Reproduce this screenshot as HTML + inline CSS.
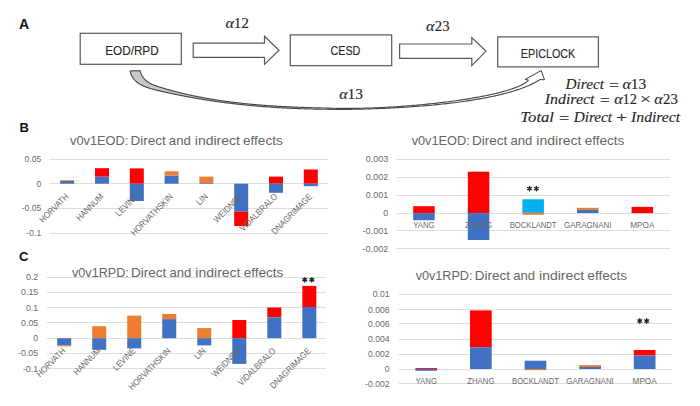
<!DOCTYPE html>
<html><head><meta charset="utf-8"><style>
html,body{margin:0;padding:0;background:#fff;width:700px;height:406px;overflow:hidden}
svg{display:block}
</style></head><body>
<svg width="700" height="406" viewBox="0 0 700 406">
<rect width="700" height="406" fill="#fff"/>
<text x="19.00" y="29.00" font-family="Liberation Sans" font-size="14" fill="#111" text-anchor="start" font-weight="bold">A</text>
<text x="19.60" y="131.80" font-family="Liberation Sans" font-size="13" fill="#111" text-anchor="start" font-weight="bold">B</text>
<text x="19.00" y="261.30" font-family="Liberation Sans" font-size="13" fill="#111" text-anchor="start" font-weight="bold">C</text>
<rect x="80.20" y="33.30" width="101.10" height="31.00" fill="#fff" stroke="#595959" stroke-width="1.2"/>
<text x="105.20" y="55.30" font-family="Liberation Sans" font-size="12.4" fill="#262626" text-anchor="start" textLength="53.50" lengthAdjust="spacingAndGlyphs" stroke="#262626" stroke-width="0.12">EOD/RPD</text>
<rect x="290.30" y="34.90" width="101.40" height="30.80" fill="#fff" stroke="#595959" stroke-width="1.2"/>
<text x="330.40" y="55.00" font-family="Liberation Sans" font-size="12.4" fill="#262626" text-anchor="start" textLength="30.00" lengthAdjust="spacingAndGlyphs" stroke="#262626" stroke-width="0.12">CESD</text>
<rect x="497.70" y="36.90" width="100.70" height="30.00" fill="#fff" stroke="#595959" stroke-width="1.2"/>
<text x="520.80" y="57.60" font-family="Liberation Sans" font-size="12.4" fill="#262626" text-anchor="start" textLength="54.50" lengthAdjust="spacingAndGlyphs" stroke="#262626" stroke-width="0.12">EPICLOCK</text>
<path d="M193.2,43.2 L264.5,43.2 L264.5,36.2 L279.0,50.3 L264.5,64.4 L264.5,57.4 L193.2,57.4 Z" fill="#fff" stroke="#595959" stroke-width="1.2" stroke-linejoin="miter"/>
<path d="M399.6,44.0 L471.8,44.0 L471.8,37.6 L486.0,51.1 L471.8,65.6 L471.8,58.4 L399.6,58.4 Z" fill="#fff" stroke="#595959" stroke-width="1.2" stroke-linejoin="miter"/>
<text x="225.52" y="27.90" font-family="Liberation Serif" font-size="14.5" fill="#262626" textLength="8.44" lengthAdjust="spacingAndGlyphs" font-style="italic" stroke="#262626" stroke-width="0.12">α</text>
<text x="233.70" y="27.90" font-family="Liberation Serif" font-size="14.5" fill="#262626" textLength="15.35" lengthAdjust="spacingAndGlyphs" stroke="#262626" stroke-width="0.12">12</text>
<text x="426.02" y="30.60" font-family="Liberation Serif" font-size="14.5" fill="#262626" textLength="8.44" lengthAdjust="spacingAndGlyphs" font-style="italic" stroke="#262626" stroke-width="0.12">α</text>
<text x="434.84" y="30.60" font-family="Liberation Serif" font-size="14.5" fill="#262626" textLength="14.75" lengthAdjust="spacingAndGlyphs" stroke="#262626" stroke-width="0.12">23</text>
<text x="339.32" y="99.40" font-family="Liberation Serif" font-size="14.5" fill="#262626" textLength="8.44" lengthAdjust="spacingAndGlyphs" font-style="italic" stroke="#262626" stroke-width="0.12">α</text>
<text x="347.49" y="99.40" font-family="Liberation Serif" font-size="14.5" fill="#262626" textLength="15.43" lengthAdjust="spacingAndGlyphs" stroke="#262626" stroke-width="0.12">13</text>
<path d="M140.10,70.71 L140.22,71.19 L140.36,71.66 L140.50,72.12 L140.64,72.58 L140.80,73.02 L140.96,73.45 L141.13,73.88 L141.31,74.29 L141.50,74.69 L141.69,75.09 L141.89,75.48 L142.10,75.85 L142.32,76.22 L142.54,76.58 L142.77,76.94 L143.00,77.28 L143.24,77.61 L143.49,77.94 L143.75,78.26 L144.01,78.57 L144.27,78.88 L144.55,79.18 L144.82,79.47 L145.11,79.75 L145.40,80.03 L145.69,80.30 L145.99,80.56 L146.29,80.82 L146.60,81.07 L146.92,81.31 L147.24,81.55 L147.56,81.78 L147.89,82.01 L148.22,82.23 L148.56,82.44 L148.90,82.66 L149.24,82.86 L149.59,83.06 L149.94,83.26 L150.30,83.45 L150.66,83.63 L151.02,83.82 L151.39,84.00 L151.76,84.17 L152.13,84.34 L152.50,84.51 L152.88,84.67 L153.26,84.83 L153.64,84.99 L154.02,85.14 L154.41,85.29 L154.80,85.44 L155.19,85.58 L155.58,85.72 L155.97,85.86 L156.37,86.00 L156.77,86.14 L157.16,86.27 L157.56,86.40 L157.96,86.54 L158.36,86.66 L158.77,86.79 L159.17,86.92 L159.57,87.04 L159.97,87.17 L160.38,87.29 L160.78,87.42 L161.19,87.54 L161.59,87.66 L161.99,87.78 L162.40,87.91 L162.80,88.03 L163.21,88.15 L163.61,88.27 L164.01,88.39 L164.42,88.51 L164.82,88.62 L165.23,88.74 L165.63,88.86 L166.04,88.98 L166.44,89.09 L166.85,89.21 L167.25,89.33 L167.66,89.44 L168.06,89.56 L168.47,89.67 L168.87,89.78 L169.28,89.90 L169.68,90.01 L170.09,90.12 L170.50,90.23 L170.90,90.34 L171.31,90.45 L171.71,90.57 L172.12,90.67 L172.53,90.78 L172.93,90.89 L173.34,91.00 L173.74,91.11 L174.15,91.22 L174.56,91.32 L174.96,91.43 L175.37,91.54 L175.78,91.64 L176.19,91.75 L176.59,91.85 L177.00,91.96 L177.41,92.06 L177.81,92.16 L178.22,92.26 L178.63,92.37 L179.04,92.47 L179.44,92.57 L179.85,92.67 L180.26,92.77 L180.67,92.87 L181.07,92.97 L181.48,93.07 L181.89,93.17 L182.30,93.27 L182.71,93.37 L183.12,93.46 L183.52,93.56 L183.93,93.66 L184.34,93.75 L184.75,93.85 L185.16,93.94 L185.57,94.04 L185.98,94.13 L186.38,94.22 L186.79,94.32 L187.20,94.41 L187.61,94.50 L188.02,94.60 L188.43,94.69 L188.84,94.78 L189.25,94.87 L189.66,94.96 L190.07,95.05 L190.48,95.14 L190.89,95.23 L191.30,95.32 L191.71,95.40 L192.12,95.49 L192.53,95.58 L192.94,95.67 L193.35,95.75 L193.76,95.84 L194.17,95.92 L194.58,96.01 L194.99,96.09 L195.40,96.18 L195.81,96.26 L196.22,96.35 L196.63,96.43 L197.04,96.51 L197.45,96.59 L197.86,96.68 L198.28,96.76 L198.69,96.84 L199.10,96.92 L199.51,97.00 L199.92,97.08 L200.33,97.16 L200.74,97.24 L201.15,97.32 L201.57,97.40 L201.98,97.47 L202.39,97.55 L202.80,97.63 L203.21,97.71 L203.62,97.78 L204.04,97.86 L204.45,97.93 L204.86,98.01 L205.27,98.08 L205.68,98.16 L206.10,98.23 L206.51,98.31 L206.92,98.38 L207.33,98.45 L207.75,98.52 L208.16,98.60 L208.57,98.67 L208.98,98.74 L209.40,98.81 L209.81,98.88 L210.22,98.95 L210.63,99.02 L211.05,99.09 L211.46,99.16 L211.87,99.23 L212.29,99.30 L212.70,99.36 L213.11,99.43 L213.53,99.50 L213.94,99.57 L214.35,99.63 L214.77,99.70 L215.18,99.77 L215.59,99.83 L216.01,99.90 L216.42,99.96 L216.83,100.03 L217.25,100.09 L217.66,100.15 L218.08,100.22 L218.49,100.28 L218.90,100.34 L219.32,100.40 L219.73,100.47 L220.15,100.53 L220.56,100.59 L220.97,100.65 L221.39,100.71 L221.80,100.77 L222.22,100.83 L222.63,100.89 L223.05,100.95 L223.46,101.01 L223.88,101.07 L224.29,101.13 L224.70,101.18 L225.12,101.24 L225.53,101.30 L225.95,101.36 L226.36,101.41 L226.78,101.47 L227.19,101.52 L227.61,101.58 L228.02,101.63 L228.44,101.69 L228.85,101.74 L229.27,101.80 L229.68,101.85 L230.10,101.91 L230.52,101.96 L230.93,102.01 L231.35,102.07 L231.76,102.12 L232.18,102.17 L232.59,102.22 L233.01,102.27 L233.42,102.32 L233.84,102.37 L234.26,102.43 L234.67,102.48 L235.09,102.53 L235.50,102.58 L235.92,102.62 L236.33,102.67 L236.75,102.72 L237.17,102.77 L237.58,102.82 L238.00,102.87 L238.41,102.91 L238.83,102.96 L239.25,103.01 L239.66,103.05 L240.08,103.10 L240.50,103.15 L240.91,103.19 L241.33,103.24 L241.75,103.28 L242.16,103.33 L242.58,103.37 L242.99,103.42 L243.41,103.46 L243.83,103.50 L244.24,103.55 L244.66,103.59 L245.08,103.63 L245.49,103.68 L245.91,103.72 L246.33,103.76 L246.74,103.80 L247.16,103.84 L247.58,103.89 L248.00,103.93 L248.41,103.97 L248.83,104.01 L249.25,104.05 L249.66,104.09 L250.08,104.13 L250.50,104.17 L250.92,104.21 L251.33,104.25 L251.75,104.28 L252.17,104.32 L252.58,104.36 L253.00,104.40 L253.42,104.44 L253.84,104.47 L254.25,104.51 L254.67,104.55 L255.09,104.58 L255.51,104.62 L255.92,104.66 L256.34,104.69 L256.76,104.73 L257.18,104.76 L257.59,104.80 L258.01,104.83 L258.43,104.87 L258.85,104.90 L259.26,104.93 L259.68,104.97 L260.10,105.00 L260.52,105.04 L260.93,105.07 L261.35,105.10 L261.77,105.13 L262.19,105.17 L262.61,105.20 L263.02,105.23 L263.44,105.26 L263.86,105.29 L264.28,105.33 L264.70,105.36 L265.11,105.39 L265.53,105.42 L265.95,105.45 L266.37,105.48 L266.79,105.51 L267.20,105.54 L267.62,105.57 L268.04,105.60 L268.46,105.63 L268.88,105.65 L269.30,105.68 L269.71,105.71 L270.13,105.74 L270.55,105.77 L270.97,105.80 L271.39,105.82 L271.80,105.85 L272.22,105.88 L272.64,105.90 L273.06,105.93 L273.48,105.96 L273.90,105.98 L274.31,106.01 L274.73,106.04 L275.15,106.06 L275.57,106.09 L275.99,106.11 L276.41,106.14 L276.83,106.16 L277.24,106.19 L277.66,106.21 L278.08,106.24 L278.50,106.26 L278.92,106.29 L279.34,106.31 L279.75,106.33 L280.17,106.36 L280.59,106.38 L281.01,106.40 L281.43,106.43 L281.85,106.45 L282.27,106.47 L282.68,106.49 L283.10,106.52 L283.52,106.54 L283.94,106.56 L284.36,106.58 L284.78,106.60 L285.20,106.62 L285.61,106.65 L286.03,106.67 L286.45,106.69 L286.87,106.71 L287.29,106.73 L287.71,106.75 L288.13,106.77 L288.55,106.79 L288.96,106.81 L289.38,106.83 L289.80,106.85 L290.22,106.87 L290.64,106.89 L291.06,106.91 L291.48,106.92 L291.89,106.94 L292.31,106.96 L292.73,106.98 L293.15,107.00 L293.57,107.02 L293.99,107.03 L294.41,107.05 L294.83,107.07 L295.24,107.09 L295.66,107.10 L296.08,107.12 L296.50,107.14 L296.92,107.16 L297.34,107.17 L297.76,107.19 L298.18,107.21 L298.59,107.22 L299.01,107.24 L299.43,107.26 L299.85,107.27 L299.75,108.65 L299.31,108.64 L298.87,108.62 L298.43,108.60 L297.99,108.59 L297.55,108.57 L297.11,108.55 L296.67,108.54 L296.23,108.52 L295.79,108.50 L295.35,108.48 L294.91,108.46 L294.47,108.45 L294.03,108.43 L293.59,108.41 L293.15,108.39 L292.71,108.37 L292.27,108.35 L291.83,108.33 L291.39,108.31 L290.95,108.29 L290.51,108.27 L290.07,108.25 L289.63,108.23 L289.19,108.21 L288.75,108.19 L288.32,108.17 L287.88,108.15 L287.44,108.12 L287.00,108.10 L286.56,108.08 L286.12,108.06 L285.68,108.03 L285.24,108.01 L284.80,107.99 L284.36,107.97 L283.93,107.94 L283.49,107.92 L283.05,107.89 L282.61,107.87 L282.17,107.85 L281.73,107.82 L281.29,107.80 L280.86,107.77 L280.42,107.75 L279.98,107.72 L279.54,107.70 L279.10,107.67 L278.66,107.64 L278.23,107.62 L277.79,107.59 L277.35,107.57 L276.91,107.54 L276.47,107.51 L276.03,107.48 L275.60,107.46 L275.16,107.43 L274.72,107.40 L274.28,107.37 L273.84,107.34 L273.41,107.32 L272.97,107.29 L272.53,107.26 L272.09,107.23 L271.66,107.20 L271.22,107.17 L270.78,107.14 L270.34,107.11 L269.91,107.08 L269.47,107.05 L269.03,107.02 L268.59,106.99 L268.16,106.95 L267.72,106.92 L267.28,106.89 L266.84,106.86 L266.41,106.83 L265.97,106.79 L265.53,106.76 L265.09,106.73 L264.66,106.69 L264.22,106.66 L263.78,106.63 L263.35,106.59 L262.91,106.56 L262.47,106.53 L262.04,106.49 L261.60,106.46 L261.16,106.42 L260.72,106.39 L260.29,106.35 L259.85,106.31 L259.41,106.28 L258.98,106.24 L258.54,106.21 L258.10,106.17 L257.67,106.13 L257.23,106.09 L256.79,106.06 L256.36,106.02 L255.92,105.98 L255.48,105.94 L255.05,105.90 L254.61,105.87 L254.17,105.83 L253.74,105.79 L253.30,105.75 L252.87,105.71 L252.43,105.67 L251.99,105.63 L251.56,105.59 L251.12,105.55 L250.68,105.51 L250.25,105.47 L249.81,105.42 L249.37,105.38 L248.94,105.34 L248.50,105.30 L248.07,105.26 L247.63,105.21 L247.19,105.17 L246.76,105.13 L246.32,105.08 L245.89,105.04 L245.45,105.00 L245.01,104.95 L244.58,104.91 L244.14,104.86 L243.71,104.82 L243.27,104.77 L242.83,104.73 L242.40,104.68 L241.96,104.64 L241.53,104.59 L241.09,104.54 L240.66,104.50 L240.22,104.45 L239.78,104.40 L239.35,104.36 L238.91,104.31 L238.48,104.26 L238.04,104.21 L237.61,104.16 L237.17,104.11 L236.73,104.07 L236.30,104.02 L235.86,103.97 L235.43,103.92 L234.99,103.87 L234.56,103.82 L234.12,103.77 L233.69,103.71 L233.25,103.66 L232.81,103.61 L232.38,103.56 L231.94,103.51 L231.51,103.46 L231.07,103.40 L230.64,103.35 L230.20,103.30 L229.77,103.25 L229.33,103.19 L228.90,103.14 L228.46,103.08 L228.03,103.03 L227.59,102.98 L227.15,102.92 L226.72,102.87 L226.28,102.81 L225.85,102.75 L225.41,102.70 L224.98,102.64 L224.54,102.59 L224.11,102.53 L223.67,102.47 L223.24,102.41 L222.80,102.36 L222.37,102.30 L221.93,102.24 L221.50,102.18 L221.06,102.12 L220.63,102.07 L220.19,102.01 L219.76,101.95 L219.32,101.89 L218.89,101.83 L218.45,101.77 L218.02,101.71 L217.58,101.64 L217.15,101.58 L216.71,101.52 L216.28,101.46 L215.84,101.40 L215.41,101.34 L214.97,101.27 L214.54,101.21 L214.10,101.15 L213.67,101.08 L213.23,101.02 L212.79,100.96 L212.36,100.89 L211.92,100.83 L211.49,100.76 L211.05,100.70 L210.62,100.63 L210.18,100.57 L209.75,100.50 L209.31,100.43 L208.88,100.37 L208.44,100.30 L208.01,100.23 L207.57,100.17 L207.14,100.10 L206.70,100.03 L206.27,99.96 L205.83,99.89 L205.40,99.82 L204.96,99.76 L204.53,99.69 L204.09,99.62 L203.66,99.55 L203.22,99.48 L202.79,99.41 L202.35,99.33 L201.92,99.26 L201.48,99.19 L201.05,99.12 L200.61,99.05 L200.18,98.98 L199.74,98.90 L199.31,98.83 L198.87,98.76 L198.44,98.68 L198.00,98.61 L197.57,98.53 L197.13,98.46 L196.70,98.39 L196.26,98.31 L195.83,98.23 L195.39,98.16 L194.96,98.08 L194.52,98.01 L194.09,97.93 L193.65,97.85 L193.22,97.78 L192.78,97.70 L192.35,97.62 L191.91,97.54 L191.48,97.46 L191.04,97.39 L190.61,97.31 L190.17,97.23 L189.74,97.15 L189.30,97.07 L188.87,96.99 L188.43,96.91 L188.00,96.83 L187.56,96.74 L187.13,96.66 L186.69,96.58 L186.26,96.50 L185.82,96.42 L185.38,96.33 L184.95,96.25 L184.51,96.17 L184.08,96.08 L183.64,96.00 L183.21,95.92 L182.77,95.83 L182.34,95.75 L181.90,95.66 L181.47,95.57 L181.03,95.49 L180.60,95.40 L180.16,95.32 L179.73,95.23 L179.29,95.14 L178.85,95.05 L178.42,94.97 L177.98,94.88 L177.55,94.79 L177.11,94.70 L176.68,94.61 L176.24,94.52 L175.81,94.43 L175.37,94.34 L174.93,94.25 L174.50,94.16 L174.06,94.07 L173.63,93.98 L173.19,93.89 L172.76,93.80 L172.32,93.70 L171.88,93.61 L171.45,93.52 L171.01,93.42 L170.58,93.33 L170.14,93.24 L169.71,93.14 L169.27,93.05 L168.83,92.95 L168.40,92.86 L167.96,92.76 L167.53,92.67 L167.09,92.57 L166.65,92.47 L166.22,92.38 L165.78,92.28 L165.35,92.18 L164.91,92.08 L164.47,91.99 L164.04,91.89 L163.60,91.79 L163.17,91.69 L162.73,91.59 L162.29,91.49 L161.86,91.39 L161.42,91.29 L160.98,91.19 L160.55,91.09 L160.11,90.99 L159.68,90.88 L159.24,90.78 L158.80,90.68 L158.37,90.58 L157.93,90.47 L157.49,90.37 L157.06,90.27 L156.62,90.16 L156.19,90.05 L155.75,89.95 L155.32,89.84 L154.88,89.73 L154.45,89.62 L154.01,89.51 L153.58,89.40 L153.15,89.29 L152.72,89.17 L152.29,89.06 L151.86,88.94 L151.43,88.82 L151.00,88.70 L150.58,88.57 L150.15,88.45 L149.73,88.32 L149.31,88.19 L148.89,88.06 L148.47,87.92 L148.05,87.78 L147.64,87.64 L147.23,87.50 L146.82,87.35 L146.41,87.20 L146.00,87.05 L145.60,86.90 L145.19,86.74 L144.79,86.57 L144.40,86.41 L144.00,86.24 L143.61,86.07 L143.22,85.89 L142.83,85.71 L142.45,85.52 L142.07,85.33 L141.69,85.14 L141.31,84.94 L140.94,84.74 L140.57,84.53 L140.20,84.32 L139.84,84.10 L139.48,83.88 L139.13,83.66 L138.77,83.43 L138.43,83.19 L138.08,82.95 L137.74,82.70 L137.41,82.45 L137.08,82.19 L136.75,81.93 L136.43,81.66 L136.11,81.38 L135.80,81.10 L135.50,80.81 L135.20,80.52 L134.90,80.22 L134.61,79.91 L134.33,79.60 L134.06,79.28 L133.79,78.95 L133.52,78.61 L133.27,78.27 L133.02,77.92 L132.78,77.57 L132.54,77.20 L132.31,76.83 L132.09,76.45 L131.88,76.07 L131.68,75.67 L131.48,75.27 L131.29,74.86 L131.12,74.44 L130.94,74.01 L130.78,73.58 L130.63,73.13 L130.49,72.68 L130.35,72.22 L130.23,71.75 L130.11,71.27 L130.00,70.78 Z" fill="#c8c8c8" stroke="none"/>
<path d="M130.00,70.78 L130.11,71.27 L130.23,71.75 L130.35,72.22 L130.49,72.68 L130.63,73.13 L130.78,73.58 L130.94,74.01 L131.12,74.44 L131.29,74.86 L131.48,75.27 L131.68,75.67 L131.88,76.07 L132.09,76.45 L132.31,76.83 L132.54,77.20 L132.78,77.57 L133.02,77.92 L133.27,78.27 L133.52,78.61 L133.79,78.95 L134.06,79.28 L134.33,79.60 L134.61,79.91 L134.90,80.22 L135.20,80.52 L135.50,80.81 L135.80,81.10 L136.11,81.38 L136.43,81.66 L136.75,81.93 L137.08,82.19 L137.41,82.45 L137.74,82.70 L138.08,82.95 L138.43,83.19 L138.77,83.43 L139.13,83.66 L139.48,83.88 L139.84,84.10 L140.20,84.32 L140.57,84.53 L140.94,84.74 L141.31,84.94 L141.69,85.14 L142.07,85.33 L142.45,85.52 L142.83,85.71 L143.22,85.89 L143.61,86.07 L144.00,86.24 L144.40,86.41 L144.79,86.57 L145.19,86.74 L145.60,86.90 L146.00,87.05 L146.41,87.20 L146.82,87.35 L147.23,87.50 L147.64,87.64 L148.05,87.78 L148.47,87.92 L148.89,88.06 L149.31,88.19 L149.73,88.32 L150.15,88.45 L150.58,88.57 L151.00,88.70 L151.43,88.82 L151.86,88.94 L152.29,89.06 L152.72,89.17 L153.15,89.29 L153.58,89.40 L154.01,89.51 L154.45,89.62 L154.88,89.73 L155.32,89.84 L155.75,89.95 L156.19,90.05 L156.62,90.16 L157.06,90.27 L157.49,90.37 L157.93,90.47 L158.37,90.58 L158.80,90.68 L159.24,90.78 L159.68,90.88 L160.11,90.99 L160.55,91.09 L160.98,91.19 L161.42,91.29 L161.86,91.39 L162.29,91.49 L162.73,91.59 L163.17,91.69 L163.60,91.79 L164.04,91.89 L164.47,91.99 L164.91,92.08 L165.35,92.18 L165.78,92.28 L166.22,92.38 L166.65,92.47 L167.09,92.57 L167.53,92.67 L167.96,92.76 L168.40,92.86 L168.83,92.95 L169.27,93.05 L169.71,93.14 L170.14,93.24 L170.58,93.33 L171.01,93.42 L171.45,93.52 L171.88,93.61 L172.32,93.70 L172.76,93.80 L173.19,93.89 L173.63,93.98 L174.06,94.07 L174.50,94.16 L174.93,94.25 L175.37,94.34 L175.81,94.43 L176.24,94.52 L176.68,94.61 L177.11,94.70 L177.55,94.79 L177.98,94.88 L178.42,94.97 L178.85,95.05 L179.29,95.14 L179.73,95.23 L180.16,95.32 L180.60,95.40 L181.03,95.49 L181.47,95.57 L181.90,95.66 L182.34,95.75 L182.77,95.83 L183.21,95.92 L183.64,96.00 L184.08,96.08 L184.51,96.17 L184.95,96.25 L185.38,96.33 L185.82,96.42 L186.26,96.50 L186.69,96.58 L187.13,96.66 L187.56,96.74 L188.00,96.83 L188.43,96.91 L188.87,96.99 L189.30,97.07 L189.74,97.15 L190.17,97.23 L190.61,97.31 L191.04,97.39 L191.48,97.46 L191.91,97.54 L192.35,97.62 L192.78,97.70 L193.22,97.78 L193.65,97.85 L194.09,97.93 L194.52,98.01 L194.96,98.08 L195.39,98.16 L195.83,98.23 L196.26,98.31 L196.70,98.39 L197.13,98.46 L197.57,98.53 L198.00,98.61 L198.44,98.68 L198.87,98.76 L199.31,98.83 L199.74,98.90 L200.18,98.98 L200.61,99.05 L201.05,99.12 L201.48,99.19 L201.92,99.26 L202.35,99.33 L202.79,99.41 L203.22,99.48 L203.66,99.55 L204.09,99.62 L204.53,99.69 L204.96,99.76 L205.40,99.82 L205.83,99.89 L206.27,99.96 L206.70,100.03 L207.14,100.10 L207.57,100.17 L208.01,100.23 L208.44,100.30 L208.88,100.37 L209.31,100.43 L209.75,100.50 L210.18,100.57 L210.62,100.63 L211.05,100.70 L211.49,100.76 L211.92,100.83 L212.36,100.89 L212.79,100.96 L213.23,101.02 L213.67,101.08 L214.10,101.15 L214.54,101.21 L214.97,101.27 L215.41,101.34 L215.84,101.40 L216.28,101.46 L216.71,101.52 L217.15,101.58 L217.58,101.64 L218.02,101.71 L218.45,101.77 L218.89,101.83 L219.32,101.89 L219.76,101.95 L220.19,102.01 L220.63,102.07 L221.06,102.12 L221.50,102.18 L221.93,102.24 L222.37,102.30 L222.80,102.36 L223.24,102.41 L223.67,102.47 L224.11,102.53 L224.54,102.59 L224.98,102.64 L225.41,102.70 L225.85,102.75 L226.28,102.81 L226.72,102.87 L227.15,102.92 L227.59,102.98 L228.03,103.03 L228.46,103.08 L228.90,103.14 L229.33,103.19 L229.77,103.25 L230.20,103.30 L230.64,103.35 L231.07,103.40 L231.51,103.46 L231.94,103.51 L232.38,103.56 L232.81,103.61 L233.25,103.66 L233.69,103.71 L234.12,103.77 L234.56,103.82 L234.99,103.87 L235.43,103.92 L235.86,103.97 L236.30,104.02 L236.73,104.07 L237.17,104.11 L237.61,104.16 L238.04,104.21 L238.48,104.26 L238.91,104.31 L239.35,104.36 L239.78,104.40 L240.22,104.45 L240.66,104.50 L241.09,104.54 L241.53,104.59 L241.96,104.64 L242.40,104.68 L242.83,104.73 L243.27,104.77 L243.71,104.82 L244.14,104.86 L244.58,104.91 L245.01,104.95 L245.45,105.00 L245.89,105.04 L246.32,105.08 L246.76,105.13 L247.19,105.17 L247.63,105.21 L248.07,105.26 L248.50,105.30 L248.94,105.34 L249.37,105.38 L249.81,105.42 L250.25,105.47 L250.68,105.51 L251.12,105.55 L251.56,105.59 L251.99,105.63 L252.43,105.67 L252.87,105.71 L253.30,105.75 L253.74,105.79 L254.17,105.83 L254.61,105.87 L255.05,105.90 L255.48,105.94 L255.92,105.98 L256.36,106.02 L256.79,106.06 L257.23,106.09 L257.67,106.13 L258.10,106.17 L258.54,106.21 L258.98,106.24 L259.41,106.28 L259.85,106.31 L260.29,106.35 L260.72,106.39 L261.16,106.42 L261.60,106.46 L262.04,106.49 L262.47,106.53 L262.91,106.56 L263.35,106.59 L263.78,106.63 L264.22,106.66 L264.66,106.69 L265.09,106.73 L265.53,106.76 L265.97,106.79 L266.41,106.83 L266.84,106.86 L267.28,106.89 L267.72,106.92 L268.16,106.95 L268.59,106.99 L269.03,107.02 L269.47,107.05 L269.91,107.08 L270.34,107.11 L270.78,107.14 L271.22,107.17 L271.66,107.20 L272.09,107.23 L272.53,107.26 L272.97,107.29 L273.41,107.32 L273.84,107.34 L274.28,107.37 L274.72,107.40 L275.16,107.43 L275.60,107.46 L276.03,107.48 L276.47,107.51 L276.91,107.54 L277.35,107.57 L277.79,107.59 L278.23,107.62 L278.66,107.64 L279.10,107.67 L279.54,107.70 L279.98,107.72 L280.42,107.75 L280.86,107.77 L281.29,107.80 L281.73,107.82 L282.17,107.85 L282.61,107.87 L283.05,107.89 L283.49,107.92 L283.93,107.94 L284.36,107.97 L284.80,107.99 L285.24,108.01 L285.68,108.03 L286.12,108.06 L286.56,108.08 L287.00,108.10 L287.44,108.12 L287.88,108.15 L288.32,108.17 L288.75,108.19 L289.19,108.21 L289.63,108.23 L290.07,108.25 L290.51,108.27 L290.95,108.29 L291.39,108.31 L291.83,108.33 L292.27,108.35 L292.71,108.37 L293.15,108.39 L293.59,108.41 L294.03,108.43 L294.47,108.45 L294.91,108.46 L295.35,108.48 L295.79,108.50 L296.23,108.52 L296.67,108.54 L297.11,108.55 L297.55,108.57 L297.99,108.59 L298.43,108.60 L298.87,108.62 L299.31,108.64 L299.75,108.65 L300.19,108.67 L300.63,108.68 L301.07,108.70 L301.51,108.72 L301.95,108.73 L302.39,108.75 L302.83,108.76 L303.28,108.78 L303.72,108.79 L304.16,108.80 L304.60,108.82 L305.04,108.83 L305.48,108.85 L305.92,108.86 L306.36,108.87 L306.80,108.88 L307.24,108.90 L307.69,108.91 L308.13,108.92 L308.57,108.94 L309.01,108.95 L309.45,108.96 L309.89,108.97 L310.34,108.98 L310.78,108.99 L311.22,109.00 L311.66,109.02 L312.10,109.03 L312.54,109.04 L312.99,109.05 L313.43,109.06 L313.87,109.07 L314.31,109.08 L314.76,109.09 L315.20,109.10 L315.64,109.11 L316.08,109.12 L316.52,109.12 L316.97,109.13 L317.41,109.14 L317.85,109.15 L318.30,109.16 L318.74,109.17 L319.18,109.17 L319.62,109.18 L320.07,109.19 L320.51,109.20 L320.95,109.20 L321.40,109.21 L321.84,109.22 L322.28,109.22 L322.73,109.23 L323.17,109.24 L323.61,109.24 L324.06,109.25 L324.50,109.25 L324.94,109.26 L325.39,109.27 L325.83,109.27 L326.27,109.28 L326.72,109.28 L327.16,109.29 L327.61,109.29 L328.05,109.29 L328.49,109.30 L328.94,109.30 L329.38,109.31 L329.83,109.31 L330.27,109.31 L330.72,109.32 L331.16,109.32 L331.61,109.32 L332.05,109.33 L332.50,109.33 L332.94,109.33 L333.38,109.33 L333.83,109.34 L334.27,109.34 L334.72,109.34 L335.16,109.34 L335.61,109.34 L336.06,109.34 L336.50,109.34 L336.95,109.35 L337.39,109.35 L337.84,109.35 L338.28,109.35 L338.73,109.35 L339.17,109.35 L339.62,109.35 L340.00,109.40 L341.48,109.39 L342.98,109.39 L344.50,109.38 L346.04,109.36 L347.59,109.35 L349.16,109.33 L350.75,109.31 L352.35,109.29 L353.97,109.26 L355.60,109.23 L357.25,109.20 L358.92,109.17 L360.59,109.13 L362.29,109.09 L363.99,109.05 L365.71,109.01 L367.44,108.96 L369.18,108.91 L370.94,108.85 L372.71,108.79 L374.48,108.73 L376.27,108.67 L378.07,108.60 L379.88,108.53 L381.70,108.46 L383.53,108.38 L385.36,108.30 L387.21,108.21 L389.06,108.13 L390.92,108.03 L392.79,107.94 L394.66,107.84 L396.54,107.74 L398.43,107.63 L400.32,107.52 L402.22,107.41 L404.12,107.29 L406.03,107.17 L407.94,107.04 L409.85,106.91 L411.77,106.78 L413.69,106.64 L415.61,106.50 L417.53,106.35 L419.46,106.20 L421.39,106.05 L423.32,105.89 L425.25,105.72 L427.18,105.56 L429.10,105.38 L431.03,105.21 L432.96,105.02 L434.89,104.84 L436.81,104.65 L438.73,104.45 L440.65,104.25 L442.57,104.05 L444.48,103.84 L446.39,103.62 L448.29,103.40 L450.19,103.18 L452.09,102.95 L453.98,102.71 L455.86,102.47 L457.74,102.23 L459.61,101.98 L461.47,101.72 L463.33,101.46 L465.18,101.20 L467.02,100.93 L468.85,100.65 L470.67,100.37 L472.49,100.08 L474.29,99.79 L476.09,99.49 L477.87,99.19 L479.64,98.88 L481.40,98.56 L483.15,98.24 L484.89,97.91 L486.62,97.58 L488.33,97.24 L490.03,96.90 L491.71,96.55 L493.38,96.19 L495.04,95.83 L496.68,95.46 L498.31,95.09 L499.92,94.71 L501.52,94.32 L503.10,93.93 L504.66,93.53 L506.20,93.12 L507.73,92.71 L509.24,92.29 L510.73,91.86 L512.21,91.43 L513.66,90.99 L515.09,90.55 L516.51,90.10 L517.90,89.64 L519.27,89.17 L520.63,88.70 L521.96,88.22 L523.26,87.74 L524.55,87.25 L525.81,86.75 L527.05,86.24 L528.27,85.73 L529.47,85.21 L530.63,84.68 L531.78,84.14 L532.90,83.60 L533.99,83.05 L535.06,82.49 L536.10,81.93 L537.12,81.36 L538.11,80.78 L539.07,80.19 L540.00,79.60" fill="none" stroke="#4a4a4a" stroke-width="1.15"/>
<path d="M140.10,70.71 L140.22,71.19 L140.36,71.66 L140.50,72.12 L140.64,72.58 L140.80,73.02 L140.96,73.45 L141.13,73.88 L141.31,74.29 L141.50,74.69 L141.69,75.09 L141.89,75.48 L142.10,75.85 L142.32,76.22 L142.54,76.58 L142.77,76.94 L143.00,77.28 L143.24,77.61 L143.49,77.94 L143.75,78.26 L144.01,78.57 L144.27,78.88 L144.55,79.18 L144.82,79.47 L145.11,79.75 L145.40,80.03 L145.69,80.30 L145.99,80.56 L146.29,80.82 L146.60,81.07 L146.92,81.31 L147.24,81.55 L147.56,81.78 L147.89,82.01 L148.22,82.23 L148.56,82.44 L148.90,82.66 L149.24,82.86 L149.59,83.06 L149.94,83.26 L150.30,83.45 L150.66,83.63 L151.02,83.82 L151.39,84.00 L151.76,84.17 L152.13,84.34 L152.50,84.51 L152.88,84.67 L153.26,84.83 L153.64,84.99 L154.02,85.14 L154.41,85.29 L154.80,85.44 L155.19,85.58 L155.58,85.72 L155.97,85.86 L156.37,86.00 L156.77,86.14 L157.16,86.27 L157.56,86.40 L157.96,86.54 L158.36,86.66 L158.77,86.79 L159.17,86.92 L159.57,87.04 L159.97,87.17 L160.38,87.29 L160.78,87.42 L161.19,87.54 L161.59,87.66 L161.99,87.78 L162.40,87.91 L162.80,88.03 L163.21,88.15 L163.61,88.27 L164.01,88.39 L164.42,88.51 L164.82,88.62 L165.23,88.74 L165.63,88.86 L166.04,88.98 L166.44,89.09 L166.85,89.21 L167.25,89.33 L167.66,89.44 L168.06,89.56 L168.47,89.67 L168.87,89.78 L169.28,89.90 L169.68,90.01 L170.09,90.12 L170.50,90.23 L170.90,90.34 L171.31,90.45 L171.71,90.57 L172.12,90.67 L172.53,90.78 L172.93,90.89 L173.34,91.00 L173.74,91.11 L174.15,91.22 L174.56,91.32 L174.96,91.43 L175.37,91.54 L175.78,91.64 L176.19,91.75 L176.59,91.85 L177.00,91.96 L177.41,92.06 L177.81,92.16 L178.22,92.26 L178.63,92.37 L179.04,92.47 L179.44,92.57 L179.85,92.67 L180.26,92.77 L180.67,92.87 L181.07,92.97 L181.48,93.07 L181.89,93.17 L182.30,93.27 L182.71,93.37 L183.12,93.46 L183.52,93.56 L183.93,93.66 L184.34,93.75 L184.75,93.85 L185.16,93.94 L185.57,94.04 L185.98,94.13 L186.38,94.22 L186.79,94.32 L187.20,94.41 L187.61,94.50 L188.02,94.60 L188.43,94.69 L188.84,94.78 L189.25,94.87 L189.66,94.96 L190.07,95.05 L190.48,95.14 L190.89,95.23 L191.30,95.32 L191.71,95.40 L192.12,95.49 L192.53,95.58 L192.94,95.67 L193.35,95.75 L193.76,95.84 L194.17,95.92 L194.58,96.01 L194.99,96.09 L195.40,96.18 L195.81,96.26 L196.22,96.35 L196.63,96.43 L197.04,96.51 L197.45,96.59 L197.86,96.68 L198.28,96.76 L198.69,96.84 L199.10,96.92 L199.51,97.00 L199.92,97.08 L200.33,97.16 L200.74,97.24 L201.15,97.32 L201.57,97.40 L201.98,97.47 L202.39,97.55 L202.80,97.63 L203.21,97.71 L203.62,97.78 L204.04,97.86 L204.45,97.93 L204.86,98.01 L205.27,98.08 L205.68,98.16 L206.10,98.23 L206.51,98.31 L206.92,98.38 L207.33,98.45 L207.75,98.52 L208.16,98.60 L208.57,98.67 L208.98,98.74 L209.40,98.81 L209.81,98.88 L210.22,98.95 L210.63,99.02 L211.05,99.09 L211.46,99.16 L211.87,99.23 L212.29,99.30 L212.70,99.36 L213.11,99.43 L213.53,99.50 L213.94,99.57 L214.35,99.63 L214.77,99.70 L215.18,99.77 L215.59,99.83 L216.01,99.90 L216.42,99.96 L216.83,100.03 L217.25,100.09 L217.66,100.15 L218.08,100.22 L218.49,100.28 L218.90,100.34 L219.32,100.40 L219.73,100.47 L220.15,100.53 L220.56,100.59 L220.97,100.65 L221.39,100.71 L221.80,100.77 L222.22,100.83 L222.63,100.89 L223.05,100.95 L223.46,101.01 L223.88,101.07 L224.29,101.13 L224.70,101.18 L225.12,101.24 L225.53,101.30 L225.95,101.36 L226.36,101.41 L226.78,101.47 L227.19,101.52 L227.61,101.58 L228.02,101.63 L228.44,101.69 L228.85,101.74 L229.27,101.80 L229.68,101.85 L230.10,101.91 L230.52,101.96 L230.93,102.01 L231.35,102.07 L231.76,102.12 L232.18,102.17 L232.59,102.22 L233.01,102.27 L233.42,102.32 L233.84,102.37 L234.26,102.43 L234.67,102.48 L235.09,102.53 L235.50,102.58 L235.92,102.62 L236.33,102.67 L236.75,102.72 L237.17,102.77 L237.58,102.82 L238.00,102.87 L238.41,102.91 L238.83,102.96 L239.25,103.01 L239.66,103.05 L240.08,103.10 L240.50,103.15 L240.91,103.19 L241.33,103.24 L241.75,103.28 L242.16,103.33 L242.58,103.37 L242.99,103.42 L243.41,103.46 L243.83,103.50 L244.24,103.55 L244.66,103.59 L245.08,103.63 L245.49,103.68 L245.91,103.72 L246.33,103.76 L246.74,103.80 L247.16,103.84 L247.58,103.89 L248.00,103.93 L248.41,103.97 L248.83,104.01 L249.25,104.05 L249.66,104.09 L250.08,104.13 L250.50,104.17 L250.92,104.21 L251.33,104.25 L251.75,104.28 L252.17,104.32 L252.58,104.36 L253.00,104.40 L253.42,104.44 L253.84,104.47 L254.25,104.51 L254.67,104.55 L255.09,104.58 L255.51,104.62 L255.92,104.66 L256.34,104.69 L256.76,104.73 L257.18,104.76 L257.59,104.80 L258.01,104.83 L258.43,104.87 L258.85,104.90 L259.26,104.93 L259.68,104.97 L260.10,105.00 L260.52,105.04 L260.93,105.07 L261.35,105.10 L261.77,105.13 L262.19,105.17 L262.61,105.20 L263.02,105.23 L263.44,105.26 L263.86,105.29 L264.28,105.33 L264.70,105.36 L265.11,105.39 L265.53,105.42 L265.95,105.45 L266.37,105.48 L266.79,105.51 L267.20,105.54 L267.62,105.57 L268.04,105.60 L268.46,105.63 L268.88,105.65 L269.30,105.68 L269.71,105.71 L270.13,105.74 L270.55,105.77 L270.97,105.80 L271.39,105.82 L271.80,105.85 L272.22,105.88 L272.64,105.90 L273.06,105.93 L273.48,105.96 L273.90,105.98 L274.31,106.01 L274.73,106.04 L275.15,106.06 L275.57,106.09 L275.99,106.11 L276.41,106.14 L276.83,106.16 L277.24,106.19 L277.66,106.21 L278.08,106.24 L278.50,106.26 L278.92,106.29 L279.34,106.31 L279.75,106.33 L280.17,106.36 L280.59,106.38 L281.01,106.40 L281.43,106.43 L281.85,106.45 L282.27,106.47 L282.68,106.49 L283.10,106.52 L283.52,106.54 L283.94,106.56 L284.36,106.58 L284.78,106.60 L285.20,106.62 L285.61,106.65 L286.03,106.67 L286.45,106.69 L286.87,106.71 L287.29,106.73 L287.71,106.75 L288.13,106.77 L288.55,106.79 L288.96,106.81 L289.38,106.83 L289.80,106.85 L290.22,106.87 L290.64,106.89 L291.06,106.91 L291.48,106.92 L291.89,106.94 L292.31,106.96 L292.73,106.98 L293.15,107.00 L293.57,107.02 L293.99,107.03 L294.41,107.05 L294.83,107.07 L295.24,107.09 L295.66,107.10 L296.08,107.12 L296.50,107.14 L296.92,107.16 L297.34,107.17 L297.76,107.19 L298.18,107.21 L298.59,107.22 L299.01,107.24 L299.43,107.26 L299.85,107.27 L300.27,107.29 L300.69,107.30 L301.11,107.32 L301.52,107.33 L301.94,107.35 L302.36,107.36 L302.78,107.38 L303.20,107.40 L303.62,107.41 L304.04,107.42 L304.45,107.44 L304.87,107.45 L305.29,107.47 L305.71,107.48 L306.13,107.50 L306.55,107.51 L306.97,107.53 L307.38,107.54 L307.80,107.55 L308.22,107.57 L308.64,107.58 L309.06,107.59 L309.48,107.61 L309.90,107.62 L310.31,107.63 L310.73,107.65 L311.15,107.66 L311.57,107.67 L311.99,107.68 L312.41,107.70 L312.82,107.71 L313.24,107.72 L313.66,107.73 L314.08,107.75 L314.50,107.76 L314.92,107.77 L315.33,107.78 L315.75,107.79 L316.17,107.81 L316.59,107.82 L317.01,107.83 L317.43,107.84 L317.84,107.85 L318.26,107.86 L318.68,107.87 L319.10,107.89 L319.52,107.90 L319.94,107.91 L320.35,107.92 L320.77,107.93 L321.19,107.94 L321.61,107.95 L322.03,107.96 L322.44,107.97 L322.86,107.98 L323.28,107.99 L323.70,108.00 L324.12,108.01 L324.53,108.02 L324.95,108.03 L325.37,108.05 L325.79,108.06 L326.20,108.07 L326.62,108.08 L327.04,108.08 L327.46,108.09 L327.88,108.10 L328.29,108.11 L328.71,108.12 L329.13,108.13 L329.55,108.14 L329.96,108.15 L330.38,108.16 L330.80,108.17 L331.22,108.18 L331.63,108.19 L332.05,108.20 L332.47,108.21 L332.89,108.22 L333.30,108.23 L333.72,108.24 L334.14,108.24 L334.56,108.25 L334.97,108.26 L335.39,108.27 L335.81,108.28 L336.23,108.29 L336.64,108.30 L337.06,108.31 L337.48,108.32 L337.89,108.32 L338.31,108.33 L338.73,108.34 L339.14,108.35 L339.56,108.36 L340.00,108.30 L341.52,108.33 L343.05,108.35 L344.61,108.37 L346.18,108.38 L347.78,108.39 L349.39,108.39 L351.02,108.39 L352.67,108.38 L354.34,108.37 L356.02,108.35 L357.72,108.33 L359.43,108.30 L361.16,108.27 L362.90,108.23 L364.66,108.19 L366.43,108.14 L368.21,108.09 L370.01,108.03 L371.82,107.97 L373.64,107.90 L375.47,107.83 L377.31,107.75 L379.16,107.67 L381.03,107.59 L382.90,107.49 L384.77,107.40 L386.66,107.30 L388.56,107.19 L390.46,107.08 L392.37,106.97 L394.28,106.85 L396.20,106.72 L398.13,106.59 L400.06,106.46 L401.99,106.32 L403.93,106.18 L405.87,106.03 L407.81,105.88 L409.75,105.73 L411.70,105.57 L413.65,105.40 L415.60,105.23 L417.55,105.06 L419.49,104.88 L421.44,104.70 L423.39,104.51 L425.33,104.32 L427.27,104.13 L429.21,103.93 L431.15,103.73 L433.08,103.52 L435.00,103.31 L436.93,103.09 L438.84,102.87 L440.75,102.65 L442.66,102.42 L444.56,102.19 L446.45,101.95 L448.33,101.71 L450.20,101.47 L452.07,101.22 L453.92,100.97 L455.77,100.71 L457.60,100.45 L459.43,100.19 L461.24,99.92 L463.04,99.65 L464.83,99.37 L466.61,99.09 L468.37,98.81 L470.12,98.52 L471.86,98.23 L473.58,97.94 L475.28,97.64 L476.97,97.34 L478.64,97.03 L480.30,96.72 L481.94,96.41 L483.56,96.09 L485.16,95.77 L486.74,95.45 L488.31,95.12 L489.85,94.79 L491.37,94.46 L492.88,94.12 L494.36,93.78 L495.82,93.44 L497.26,93.09 L498.67,92.74 L500.06,92.38 L501.43,92.02 L502.77,91.66 L504.09,91.30 L505.39,90.93 L506.65,90.56 L507.89,90.19 L509.11,89.81 L510.30,89.43 L511.45,89.05 L512.59,88.66 L513.69,88.27 L514.76,87.88 L515.80,87.48 L516.82,87.08 L517.80,86.68 L518.75,86.27 L519.67,85.87 L520.56,85.46 L521.41,85.04 L522.23,84.62 L523.02,84.20 L523.77,83.78 L524.49,83.36 L525.17,82.93 L525.82,82.50 L526.43,82.06 L527.00,81.63 L527.54,81.19 L528.04,80.74 L528.50,80.30" fill="none" stroke="#4a4a4a" stroke-width="1.15"/>
<path d="M130.5,70.8 L140.5,70.8" fill="none" stroke="#4a4a4a" stroke-width="1.15"/>
<path d="M528.6,80 L525,79.5 L541.2,70.6 L544.5,79.8 L539.5,79.5" fill="#fff" stroke="#404040" stroke-width="1" stroke-linejoin="miter"/>
<text x="565.55" y="89.40" font-family="Liberation Serif" font-size="14.5" fill="#262626" textLength="38.50" lengthAdjust="spacingAndGlyphs" font-style="italic" stroke="#262626" stroke-width="0.12">Direct</text>
<text x="609.11" y="90.40" font-family="Liberation Serif" font-size="14.5" fill="#262626" textLength="10.07" lengthAdjust="spacingAndGlyphs" stroke="#262626" stroke-width="0.12">=</text>
<text x="622.62" y="89.40" font-family="Liberation Serif" font-size="14.5" fill="#262626" textLength="8.44" lengthAdjust="spacingAndGlyphs" font-style="italic" stroke="#262626" stroke-width="0.12">α</text>
<text x="630.78" y="89.40" font-family="Liberation Serif" font-size="14.5" fill="#262626" textLength="15.54" lengthAdjust="spacingAndGlyphs" stroke="#262626" stroke-width="0.12">13</text>
<text x="544.68" y="103.80" font-family="Liberation Serif" font-size="14.5" fill="#262626" textLength="49.88" lengthAdjust="spacingAndGlyphs" font-style="italic" stroke="#262626" stroke-width="0.12">Indirect</text>
<text x="599.71" y="104.80" font-family="Liberation Serif" font-size="14.5" fill="#262626" textLength="10.07" lengthAdjust="spacingAndGlyphs" stroke="#262626" stroke-width="0.12">=</text>
<text x="614.22" y="103.80" font-family="Liberation Serif" font-size="14.5" fill="#262626" textLength="8.44" lengthAdjust="spacingAndGlyphs" font-style="italic" stroke="#262626" stroke-width="0.12">α</text>
<text x="622.47" y="103.80" font-family="Liberation Serif" font-size="14.5" fill="#262626" textLength="14.42" lengthAdjust="spacingAndGlyphs" stroke="#262626" stroke-width="0.12">12</text>
<text x="639.66" y="104.40" font-family="Liberation Serif" font-size="14.5" fill="#262626" textLength="11.56" lengthAdjust="spacingAndGlyphs" stroke="#262626" stroke-width="0.12">×</text>
<text x="654.22" y="103.80" font-family="Liberation Serif" font-size="14.5" fill="#262626" textLength="8.44" lengthAdjust="spacingAndGlyphs" font-style="italic" stroke="#262626" stroke-width="0.12">α</text>
<text x="663.04" y="103.80" font-family="Liberation Serif" font-size="14.5" fill="#262626" textLength="14.75" lengthAdjust="spacingAndGlyphs" stroke="#262626" stroke-width="0.12">23</text>
<text x="520.32" y="121.60" font-family="Liberation Serif" font-size="14.5" fill="#262626" textLength="33.70" lengthAdjust="spacingAndGlyphs" font-style="italic" stroke="#262626" stroke-width="0.12">Total</text>
<text x="558.98" y="122.60" font-family="Liberation Serif" font-size="14.5" fill="#262626" textLength="10.43" lengthAdjust="spacingAndGlyphs" stroke="#262626" stroke-width="0.12">=</text>
<text x="573.65" y="121.60" font-family="Liberation Serif" font-size="14.5" fill="#262626" textLength="38.40" lengthAdjust="spacingAndGlyphs" font-style="italic" stroke="#262626" stroke-width="0.12">Direct</text>
<text x="615.91" y="122.40" font-family="Liberation Serif" font-size="14.5" fill="#262626" textLength="11.16" lengthAdjust="spacingAndGlyphs" stroke="#262626" stroke-width="0.12">+</text>
<text x="631.08" y="121.60" font-family="Liberation Serif" font-size="14.5" fill="#262626" textLength="49.08" lengthAdjust="spacingAndGlyphs" font-style="italic" stroke="#262626" stroke-width="0.12">Indirect</text>
<line x1="49.3" y1="159.50" x2="328" y2="159.50" stroke="#dedede" stroke-width="1"/>
<line x1="49.3" y1="183.50" x2="328" y2="183.50" stroke="#dedede" stroke-width="1"/>
<line x1="49.3" y1="208.50" x2="328" y2="208.50" stroke="#dedede" stroke-width="1"/>
<line x1="49.3" y1="233.50" x2="328" y2="233.50" stroke="#dedede" stroke-width="1"/>
<text x="41.20" y="162.30" font-family="Liberation Sans" font-size="8.4" fill="#6a6a6a" text-anchor="end" textLength="16.62" lengthAdjust="spacingAndGlyphs" >0.05</text>
<text x="41.20" y="186.70" font-family="Liberation Sans" font-size="8.4" fill="#6a6a6a" text-anchor="end" textLength="4.75" lengthAdjust="spacingAndGlyphs" >0</text>
<text x="41.20" y="211.30" font-family="Liberation Sans" font-size="8.4" fill="#6a6a6a" text-anchor="end" textLength="19.57" lengthAdjust="spacingAndGlyphs" >-0.05</text>
<text x="41.20" y="236.20" font-family="Liberation Sans" font-size="8.4" fill="#6a6a6a" text-anchor="end" textLength="14.82" lengthAdjust="spacingAndGlyphs" >-0.1</text>
<rect x="60.20" y="181.00" width="14.00" height="2.70" fill="#4071c2"/>
<rect x="60.20" y="180.20" width="14.00" height="0.80" fill="#ed7d31"/>
<rect x="95.00" y="176.60" width="14.00" height="7.10" fill="#4071c2"/>
<rect x="95.00" y="168.20" width="14.00" height="8.40" fill="#ff0000"/>
<rect x="129.80" y="168.40" width="14.00" height="15.30" fill="#ff0000"/>
<rect x="129.80" y="183.70" width="14.00" height="17.30" fill="#4071c2"/>
<rect x="164.60" y="175.50" width="14.00" height="8.20" fill="#4071c2"/>
<rect x="164.60" y="171.30" width="14.00" height="4.20" fill="#ed7d31"/>
<rect x="199.40" y="176.60" width="14.00" height="6.40" fill="#ed7d31"/>
<rect x="199.40" y="183.00" width="14.00" height="0.70" fill="#4071c2"/>
<rect x="234.20" y="183.70" width="14.00" height="28.00" fill="#4071c2"/>
<rect x="234.20" y="211.70" width="14.00" height="14.40" fill="#ff0000"/>
<rect x="269.00" y="176.60" width="14.00" height="7.10" fill="#ff0000"/>
<rect x="269.00" y="183.70" width="14.00" height="9.10" fill="#4071c2"/>
<rect x="303.80" y="169.50" width="14.00" height="14.20" fill="#ff0000"/>
<rect x="303.80" y="183.70" width="14.00" height="2.50" fill="#4071c2"/>
<text x="0" y="0" transform="translate(69.20,197.20) rotate(-45)" font-family="Liberation Sans" font-size="9.0" fill="#6a6a6a" text-anchor="end" textLength="36.98" lengthAdjust="spacingAndGlyphs">HORVATH</text>
<text x="0" y="0" transform="translate(104.00,197.20) rotate(-45)" font-family="Liberation Sans" font-size="9.0" fill="#6a6a6a" text-anchor="end" textLength="34.36" lengthAdjust="spacingAndGlyphs">HANNUM</text>
<text x="0" y="0" transform="translate(138.80,197.20) rotate(-45)" font-family="Liberation Sans" font-size="9.0" fill="#6a6a6a" text-anchor="end" textLength="27.85" lengthAdjust="spacingAndGlyphs">LEVINE</text>
<text x="0" y="0" transform="translate(173.60,197.20) rotate(-45)" font-family="Liberation Sans" font-size="9.0" fill="#6a6a6a" text-anchor="end" textLength="55.25" lengthAdjust="spacingAndGlyphs">HORVATHSKIN</text>
<text x="0" y="0" transform="translate(208.40,197.20) rotate(-45)" font-family="Liberation Sans" font-size="9.0" fill="#6a6a6a" text-anchor="end" textLength="12.18" lengthAdjust="spacingAndGlyphs">LIN</text>
<text x="0" y="0" transform="translate(243.20,197.20) rotate(-45)" font-family="Liberation Sans" font-size="9.0" fill="#6a6a6a" text-anchor="end" textLength="36.98" lengthAdjust="spacingAndGlyphs">WEIDNER</text>
<text x="0" y="0" transform="translate(278.00,197.20) rotate(-45)" font-family="Liberation Sans" font-size="9.0" fill="#6a6a6a" text-anchor="end" textLength="49.17" lengthAdjust="spacingAndGlyphs">VIDALBRALO</text>
<text x="0" y="0" transform="translate(312.80,197.20) rotate(-45)" font-family="Liberation Sans" font-size="9.0" fill="#6a6a6a" text-anchor="end" textLength="53.51" lengthAdjust="spacingAndGlyphs">DNAGRIMAGE</text>
<text x="70.04" y="144.80" font-family="Liberation Sans" font-size="13.6" fill="#666666" textLength="58.18" lengthAdjust="spacingAndGlyphs" >v0v1EOD:</text>
<text x="130.52" y="144.80" font-family="Liberation Sans" font-size="13.6" fill="#666666" textLength="35.27" lengthAdjust="spacingAndGlyphs" >Direct</text>
<text x="168.87" y="144.80" font-family="Liberation Sans" font-size="13.6" fill="#666666" textLength="21.96" lengthAdjust="spacingAndGlyphs" >and</text>
<text x="194.79" y="144.80" font-family="Liberation Sans" font-size="13.6" fill="#666666" textLength="45.13" lengthAdjust="spacingAndGlyphs" >indirect</text>
<text x="243.06" y="144.80" font-family="Liberation Sans" font-size="13.6" fill="#666666" textLength="39.69" lengthAdjust="spacingAndGlyphs" >effects</text>
<text x="411.64" y="144.80" font-family="Liberation Sans" font-size="13.6" fill="#666666" textLength="58.18" lengthAdjust="spacingAndGlyphs" >v0v1EOD:</text>
<text x="472.12" y="144.80" font-family="Liberation Sans" font-size="13.6" fill="#666666" textLength="35.27" lengthAdjust="spacingAndGlyphs" >Direct</text>
<text x="510.47" y="144.80" font-family="Liberation Sans" font-size="13.6" fill="#666666" textLength="21.96" lengthAdjust="spacingAndGlyphs" >and</text>
<text x="536.39" y="144.80" font-family="Liberation Sans" font-size="13.6" fill="#666666" textLength="45.13" lengthAdjust="spacingAndGlyphs" >indirect</text>
<text x="584.66" y="144.80" font-family="Liberation Sans" font-size="13.6" fill="#666666" textLength="39.69" lengthAdjust="spacingAndGlyphs" >effects</text>
<text x="72.04" y="276.70" font-family="Liberation Sans" font-size="13.6" fill="#666666" textLength="56.75" lengthAdjust="spacingAndGlyphs" >v0v1RPD:</text>
<text x="131.12" y="276.70" font-family="Liberation Sans" font-size="13.6" fill="#666666" textLength="35.27" lengthAdjust="spacingAndGlyphs" >Direct</text>
<text x="169.47" y="276.70" font-family="Liberation Sans" font-size="13.6" fill="#666666" textLength="21.96" lengthAdjust="spacingAndGlyphs" >and</text>
<text x="195.39" y="276.70" font-family="Liberation Sans" font-size="13.6" fill="#666666" textLength="45.13" lengthAdjust="spacingAndGlyphs" >indirect</text>
<text x="243.66" y="276.70" font-family="Liberation Sans" font-size="13.6" fill="#666666" textLength="39.69" lengthAdjust="spacingAndGlyphs" >effects</text>
<text x="415.74" y="279.90" font-family="Liberation Sans" font-size="13.6" fill="#666666" textLength="56.75" lengthAdjust="spacingAndGlyphs" >v0v1RPD:</text>
<text x="474.82" y="279.90" font-family="Liberation Sans" font-size="13.6" fill="#666666" textLength="35.27" lengthAdjust="spacingAndGlyphs" >Direct</text>
<text x="513.17" y="279.90" font-family="Liberation Sans" font-size="13.6" fill="#666666" textLength="21.96" lengthAdjust="spacingAndGlyphs" >and</text>
<text x="539.09" y="279.90" font-family="Liberation Sans" font-size="13.6" fill="#666666" textLength="45.13" lengthAdjust="spacingAndGlyphs" >indirect</text>
<text x="587.36" y="279.90" font-family="Liberation Sans" font-size="13.6" fill="#666666" textLength="39.69" lengthAdjust="spacingAndGlyphs" >effects</text>
<line x1="396.2" y1="159.50" x2="669.7" y2="159.50" stroke="#dedede" stroke-width="1"/>
<line x1="396.2" y1="177.50" x2="669.7" y2="177.50" stroke="#dedede" stroke-width="1"/>
<line x1="396.2" y1="195.50" x2="669.7" y2="195.50" stroke="#dedede" stroke-width="1"/>
<line x1="396.2" y1="213.50" x2="669.7" y2="213.50" stroke="#dedede" stroke-width="1"/>
<line x1="396.2" y1="230.50" x2="669.7" y2="230.50" stroke="#dedede" stroke-width="1"/>
<line x1="396.2" y1="248.50" x2="669.7" y2="248.50" stroke="#dedede" stroke-width="1"/>
<text x="388.20" y="162.40" font-family="Liberation Sans" font-size="8.4" fill="#6a6a6a" text-anchor="end" textLength="22.50" lengthAdjust="spacingAndGlyphs" >0.003</text>
<text x="388.20" y="180.10" font-family="Liberation Sans" font-size="8.4" fill="#6a6a6a" text-anchor="end" textLength="22.50" lengthAdjust="spacingAndGlyphs" >0.002</text>
<text x="388.20" y="198.10" font-family="Liberation Sans" font-size="8.4" fill="#6a6a6a" text-anchor="end" textLength="22.50" lengthAdjust="spacingAndGlyphs" >0.001</text>
<text x="388.20" y="216.10" font-family="Liberation Sans" font-size="8.4" fill="#6a6a6a" text-anchor="end" textLength="5.00" lengthAdjust="spacingAndGlyphs" >0</text>
<text x="388.20" y="233.60" font-family="Liberation Sans" font-size="8.4" fill="#6a6a6a" text-anchor="end" textLength="25.60" lengthAdjust="spacingAndGlyphs" >-0.001</text>
<text x="388.20" y="251.60" font-family="Liberation Sans" font-size="8.4" fill="#6a6a6a" text-anchor="end" textLength="25.60" lengthAdjust="spacingAndGlyphs" >-0.002</text>
<rect x="413.20" y="206.20" width="21.50" height="6.90" fill="#ff0000"/>
<rect x="413.20" y="213.10" width="21.50" height="7.10" fill="#4071c2"/>
<rect x="467.80" y="171.70" width="21.50" height="41.40" fill="#ff0000"/>
<rect x="467.80" y="213.10" width="21.50" height="26.90" fill="#4071c2"/>
<rect x="522.40" y="199.30" width="21.50" height="13.60" fill="#00b0f0"/>
<rect x="522.40" y="212.90" width="21.50" height="1.90" fill="#ed7d31"/>
<rect x="577.00" y="207.80" width="21.50" height="2.10" fill="#ed7d31"/>
<rect x="577.00" y="209.90" width="21.50" height="3.20" fill="#4071c2"/>
<rect x="631.60" y="206.90" width="21.50" height="6.20" fill="#ff0000"/>
<text x="423.95" y="227.90" font-family="Liberation Sans" font-size="8.4" fill="#6a6a6a" text-anchor="middle" textLength="21.50" lengthAdjust="spacingAndGlyphs" >YANG</text>
<text x="478.55" y="227.90" font-family="Liberation Sans" font-size="8.4" fill="#6a6a6a" text-anchor="middle" textLength="27.20" lengthAdjust="spacingAndGlyphs" >ZHANG</text>
<text x="533.15" y="227.90" font-family="Liberation Sans" font-size="8.4" fill="#6a6a6a" text-anchor="middle" textLength="46.80" lengthAdjust="spacingAndGlyphs" >BOCKLANDT</text>
<text x="587.75" y="227.90" font-family="Liberation Sans" font-size="8.4" fill="#6a6a6a" text-anchor="middle" textLength="47.50" lengthAdjust="spacingAndGlyphs" >GARAGNANI</text>
<text x="642.35" y="227.90" font-family="Liberation Sans" font-size="8.4" fill="#6a6a6a" text-anchor="middle" textLength="24.20" lengthAdjust="spacingAndGlyphs" >MPOA</text>
<path d="M529.50,186.35 L529.50,190.85 M527.55,187.47 L531.45,189.72 M531.45,187.47 L527.55,189.72 " stroke="#222" stroke-width="1.35" stroke-linecap="round" fill="none"/>
<path d="M536.40,186.35 L536.40,190.85 M534.45,187.47 L538.35,189.72 M538.35,187.47 L534.45,189.72 " stroke="#222" stroke-width="1.35" stroke-linecap="round" fill="none"/>
<line x1="46.8" y1="277.50" x2="325.6" y2="277.50" stroke="#dedede" stroke-width="1"/>
<line x1="46.8" y1="292.50" x2="325.6" y2="292.50" stroke="#dedede" stroke-width="1"/>
<line x1="46.8" y1="307.50" x2="325.6" y2="307.50" stroke="#dedede" stroke-width="1"/>
<line x1="46.8" y1="322.50" x2="325.6" y2="322.50" stroke="#dedede" stroke-width="1"/>
<line x1="46.8" y1="338.50" x2="325.6" y2="338.50" stroke="#dedede" stroke-width="1"/>
<line x1="46.8" y1="353.50" x2="325.6" y2="353.50" stroke="#dedede" stroke-width="1"/>
<line x1="46.8" y1="368.50" x2="325.6" y2="368.50" stroke="#dedede" stroke-width="1"/>
<text x="38.20" y="280.00" font-family="Liberation Sans" font-size="8.4" fill="#6a6a6a" text-anchor="end" textLength="12.25" lengthAdjust="spacingAndGlyphs" >0.2</text>
<text x="38.20" y="295.10" font-family="Liberation Sans" font-size="8.4" fill="#6a6a6a" text-anchor="end" textLength="17.15" lengthAdjust="spacingAndGlyphs" >0.15</text>
<text x="38.20" y="310.50" font-family="Liberation Sans" font-size="8.4" fill="#6a6a6a" text-anchor="end" textLength="12.25" lengthAdjust="spacingAndGlyphs" >0.1</text>
<text x="38.20" y="325.70" font-family="Liberation Sans" font-size="8.4" fill="#6a6a6a" text-anchor="end" textLength="17.15" lengthAdjust="spacingAndGlyphs" >0.05</text>
<text x="38.20" y="341.20" font-family="Liberation Sans" font-size="8.4" fill="#6a6a6a" text-anchor="end" textLength="4.90" lengthAdjust="spacingAndGlyphs" >0</text>
<text x="38.20" y="356.30" font-family="Liberation Sans" font-size="8.4" fill="#6a6a6a" text-anchor="end" textLength="20.19" lengthAdjust="spacingAndGlyphs" >-0.05</text>
<text x="38.20" y="371.80" font-family="Liberation Sans" font-size="8.4" fill="#6a6a6a" text-anchor="end" textLength="15.29" lengthAdjust="spacingAndGlyphs" >-0.1</text>
<rect x="57.20" y="338.20" width="14.00" height="7.30" fill="#4071c2"/>
<rect x="57.20" y="345.50" width="14.00" height="0.90" fill="#ed7d31"/>
<rect x="92.22" y="326.20" width="14.00" height="12.00" fill="#ed7d31"/>
<rect x="92.22" y="338.20" width="14.00" height="11.60" fill="#4071c2"/>
<rect x="127.24" y="315.60" width="14.00" height="22.60" fill="#ed7d31"/>
<rect x="127.24" y="338.20" width="14.00" height="10.20" fill="#4071c2"/>
<rect x="162.26" y="314.00" width="14.00" height="5.20" fill="#ed7d31"/>
<rect x="162.26" y="319.20" width="14.00" height="19.00" fill="#4071c2"/>
<rect x="197.28" y="328.10" width="14.00" height="10.10" fill="#ed7d31"/>
<rect x="197.28" y="338.20" width="14.00" height="7.20" fill="#4071c2"/>
<rect x="232.30" y="320.00" width="14.00" height="18.20" fill="#ff0000"/>
<rect x="232.30" y="338.20" width="14.00" height="25.70" fill="#4071c2"/>
<rect x="267.32" y="307.50" width="14.00" height="9.80" fill="#ff0000"/>
<rect x="267.32" y="317.30" width="14.00" height="20.90" fill="#4071c2"/>
<rect x="302.34" y="285.90" width="14.00" height="21.10" fill="#ff0000"/>
<rect x="302.34" y="307.00" width="14.00" height="31.20" fill="#4071c2"/>
<text x="0" y="0" transform="translate(66.20,351.50) rotate(-45)" font-family="Liberation Sans" font-size="9.0" fill="#6a6a6a" text-anchor="end" textLength="36.98" lengthAdjust="spacingAndGlyphs">HORVATH</text>
<text x="0" y="0" transform="translate(101.22,351.50) rotate(-45)" font-family="Liberation Sans" font-size="9.0" fill="#6a6a6a" text-anchor="end" textLength="34.36" lengthAdjust="spacingAndGlyphs">HANNUM</text>
<text x="0" y="0" transform="translate(136.24,351.50) rotate(-45)" font-family="Liberation Sans" font-size="9.0" fill="#6a6a6a" text-anchor="end" textLength="27.85" lengthAdjust="spacingAndGlyphs">LEVINE</text>
<text x="0" y="0" transform="translate(171.26,351.50) rotate(-45)" font-family="Liberation Sans" font-size="9.0" fill="#6a6a6a" text-anchor="end" textLength="55.25" lengthAdjust="spacingAndGlyphs">HORVATHSKIN</text>
<text x="0" y="0" transform="translate(206.28,351.50) rotate(-45)" font-family="Liberation Sans" font-size="9.0" fill="#6a6a6a" text-anchor="end" textLength="12.18" lengthAdjust="spacingAndGlyphs">LIN</text>
<text x="0" y="0" transform="translate(241.30,351.50) rotate(-45)" font-family="Liberation Sans" font-size="9.0" fill="#6a6a6a" text-anchor="end" textLength="36.98" lengthAdjust="spacingAndGlyphs">WEIDNER</text>
<text x="0" y="0" transform="translate(276.32,351.50) rotate(-45)" font-family="Liberation Sans" font-size="9.0" fill="#6a6a6a" text-anchor="end" textLength="49.17" lengthAdjust="spacingAndGlyphs">VIDALBRALO</text>
<text x="0" y="0" transform="translate(311.34,351.50) rotate(-45)" font-family="Liberation Sans" font-size="9.0" fill="#6a6a6a" text-anchor="end" textLength="53.51" lengthAdjust="spacingAndGlyphs">DNAGRIMAGE</text>
<path d="M304.80,277.55 L304.80,282.05 M302.85,278.68 L306.75,280.93 M306.75,278.68 L302.85,280.93 " stroke="#222" stroke-width="1.35" stroke-linecap="round" fill="none"/>
<path d="M311.80,277.55 L311.80,282.05 M309.85,278.68 L313.75,280.93 M313.75,278.68 L309.85,280.93 " stroke="#222" stroke-width="1.35" stroke-linecap="round" fill="none"/>
<line x1="398.7" y1="294.50" x2="672.1" y2="294.50" stroke="#dedede" stroke-width="1"/>
<line x1="398.7" y1="309.50" x2="672.1" y2="309.50" stroke="#dedede" stroke-width="1"/>
<line x1="398.7" y1="323.50" x2="672.1" y2="323.50" stroke="#dedede" stroke-width="1"/>
<line x1="398.7" y1="339.50" x2="672.1" y2="339.50" stroke="#dedede" stroke-width="1"/>
<line x1="398.7" y1="354.50" x2="672.1" y2="354.50" stroke="#dedede" stroke-width="1"/>
<line x1="398.7" y1="369.50" x2="672.1" y2="369.50" stroke="#dedede" stroke-width="1"/>
<line x1="398.7" y1="383.50" x2="672.1" y2="383.50" stroke="#dedede" stroke-width="1"/>
<text x="389.60" y="297.40" font-family="Liberation Sans" font-size="8.4" fill="#6a6a6a" text-anchor="end" textLength="16.80" lengthAdjust="spacingAndGlyphs" >0.01</text>
<text x="389.60" y="312.60" font-family="Liberation Sans" font-size="8.4" fill="#6a6a6a" text-anchor="end" textLength="21.60" lengthAdjust="spacingAndGlyphs" >0.008</text>
<text x="389.60" y="326.90" font-family="Liberation Sans" font-size="8.4" fill="#6a6a6a" text-anchor="end" textLength="21.60" lengthAdjust="spacingAndGlyphs" >0.006</text>
<text x="389.60" y="342.20" font-family="Liberation Sans" font-size="8.4" fill="#6a6a6a" text-anchor="end" textLength="21.60" lengthAdjust="spacingAndGlyphs" >0.004</text>
<text x="389.60" y="357.00" font-family="Liberation Sans" font-size="8.4" fill="#6a6a6a" text-anchor="end" textLength="21.60" lengthAdjust="spacingAndGlyphs" >0.002</text>
<text x="389.60" y="372.00" font-family="Liberation Sans" font-size="8.4" fill="#6a6a6a" text-anchor="end" textLength="4.80" lengthAdjust="spacingAndGlyphs" >0</text>
<text x="389.60" y="386.60" font-family="Liberation Sans" font-size="8.4" fill="#6a6a6a" text-anchor="end" textLength="24.58" lengthAdjust="spacingAndGlyphs" >-0.002</text>
<rect x="415.40" y="368.10" width="21.70" height="0.90" fill="#ff0000"/>
<rect x="415.40" y="369.00" width="21.70" height="1.80" fill="#4071c2"/>
<rect x="470.00" y="310.40" width="21.70" height="36.90" fill="#ff0000"/>
<rect x="470.00" y="347.30" width="21.70" height="21.70" fill="#4071c2"/>
<rect x="524.60" y="360.70" width="21.70" height="8.30" fill="#4071c2"/>
<rect x="524.60" y="369.00" width="21.70" height="1.20" fill="#ed7d31"/>
<rect x="579.20" y="365.10" width="21.70" height="1.90" fill="#ed7d31"/>
<rect x="579.20" y="367.00" width="21.70" height="2.00" fill="#4071c2"/>
<rect x="633.80" y="350.00" width="21.70" height="5.50" fill="#ff0000"/>
<rect x="633.80" y="355.50" width="21.70" height="13.50" fill="#4071c2"/>
<text x="426.25" y="383.60" font-family="Liberation Sans" font-size="8.4" fill="#6a6a6a" text-anchor="middle" textLength="21.50" lengthAdjust="spacingAndGlyphs" >YANG</text>
<text x="480.85" y="383.60" font-family="Liberation Sans" font-size="8.4" fill="#6a6a6a" text-anchor="middle" textLength="27.20" lengthAdjust="spacingAndGlyphs" >ZHANG</text>
<text x="535.45" y="383.60" font-family="Liberation Sans" font-size="8.4" fill="#6a6a6a" text-anchor="middle" textLength="46.80" lengthAdjust="spacingAndGlyphs" >BOCKLANDT</text>
<text x="590.05" y="383.60" font-family="Liberation Sans" font-size="8.4" fill="#6a6a6a" text-anchor="middle" textLength="47.50" lengthAdjust="spacingAndGlyphs" >GARAGNANI</text>
<text x="644.65" y="383.60" font-family="Liberation Sans" font-size="8.4" fill="#6a6a6a" text-anchor="middle" textLength="24.20" lengthAdjust="spacingAndGlyphs" >MPOA</text>
<path d="M639.80,318.75 L639.80,323.25 M637.85,319.88 L641.75,322.12 M641.75,319.88 L637.85,322.12 " stroke="#222" stroke-width="1.35" stroke-linecap="round" fill="none"/>
<path d="M646.70,318.75 L646.70,323.25 M644.75,319.88 L648.65,322.12 M648.65,319.88 L644.75,322.12 " stroke="#222" stroke-width="1.35" stroke-linecap="round" fill="none"/>
</svg>
</body></html>
